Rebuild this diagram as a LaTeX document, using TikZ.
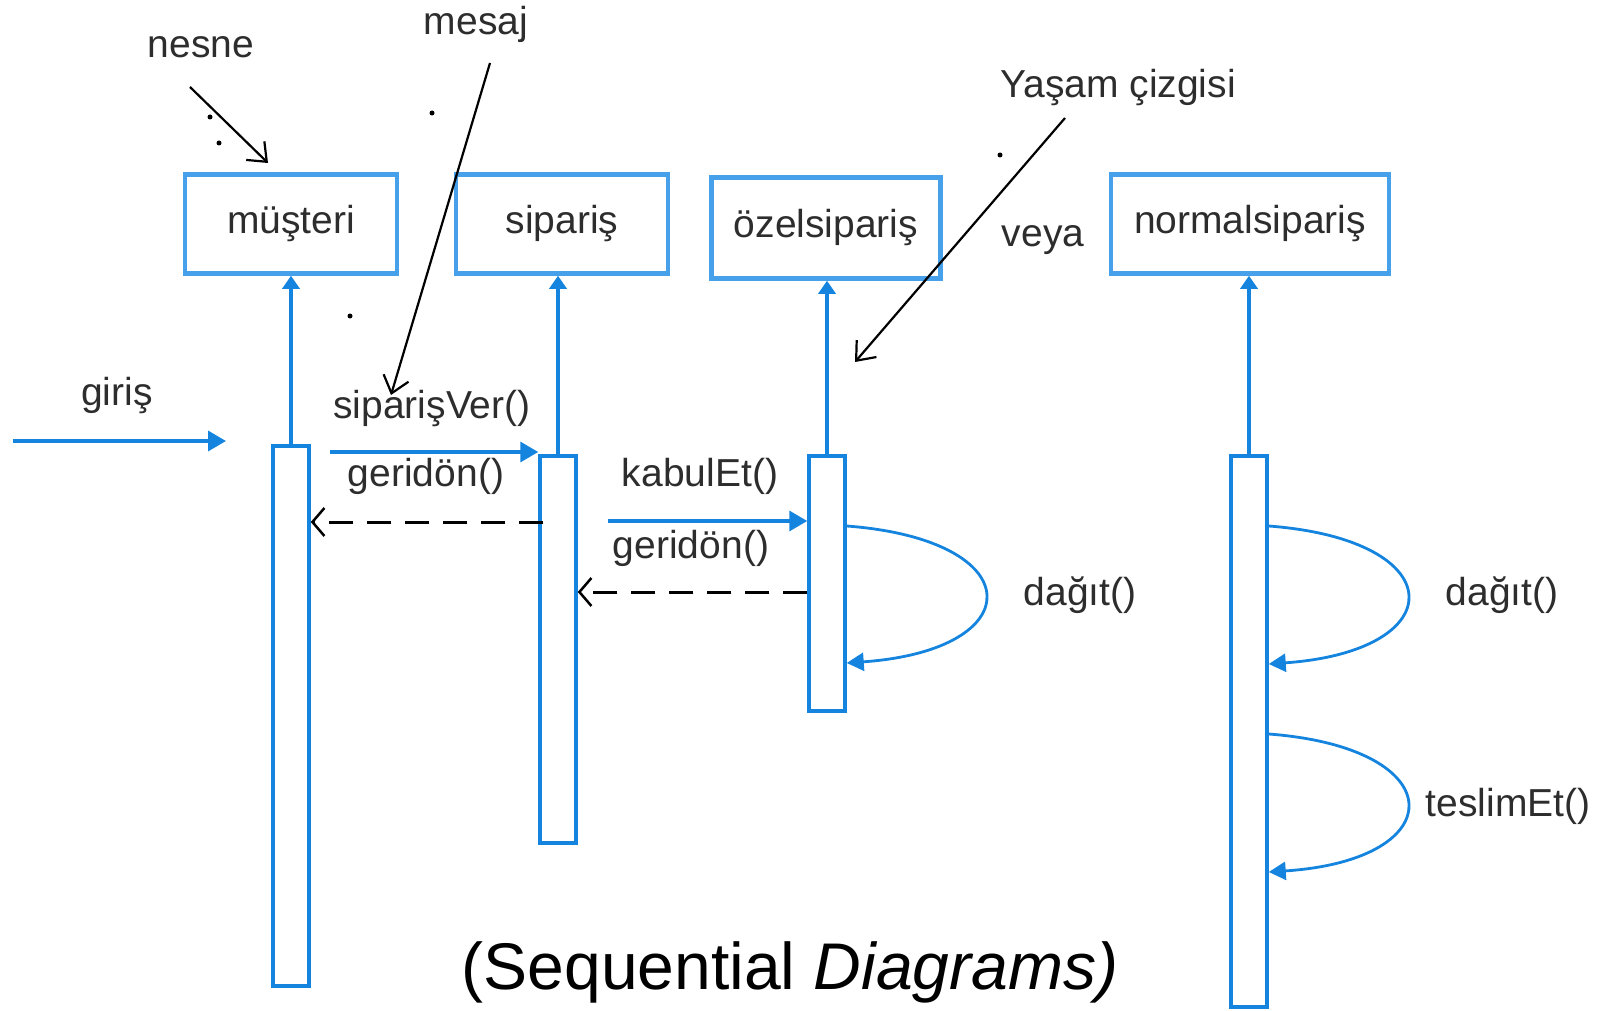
\documentclass[tikz,border=0pt]{standalone}
\usepackage{fontspec}
\setmainfont{Liberation Sans}
\usetikzlibrary{arrows.meta,calc}
\definecolor{lineblue}{RGB}{20,132,222}
\definecolor{boxblue}{RGB}{70,160,234}
\definecolor{txt}{RGB}{45,45,45}
\begin{document}
\begin{tikzpicture}[x=1pt,y=-1pt,
  font=\fontsize{39}{47}\selectfont, text=txt,
  objbox/.style={draw=boxblue, line width=4.5pt, minimum height=99pt, inner sep=0pt, text height=28pt, text depth=8pt},
  actbox/.style={draw=lineblue, line width=3.5pt, minimum width=36pt, anchor=north, inner sep=0pt},
  lbl/.style={anchor=base, inner sep=0pt},
  life/.style={draw=lineblue, line width=3.5pt, -{Triangle[length=13pt,width=17pt]}},
  msg/.style={draw=lineblue, line width=3.5pt, -{Triangle[length=18pt,width=20pt]}},
  ret/.style={draw=black, line width=3pt, dash pattern=on 24pt off 14pt, -{Straight Barb[length=12pt,width=28pt,line width=2.5pt]}},
  selfloop/.style={draw=lineblue, line width=2.8pt, -{Triangle[length=17pt,width=18pt]}},
  note/.style={draw=black, line width=2.2pt, -{Straight Barb[length=16pt,width=26pt]}},
  straydot/.style={circle, fill=black, inner sep=0pt, minimum size=5pt}]
\useasboundingbox (0,0) rectangle (1599,1011);

% objects
\node[objbox, minimum width=212pt] (must) at (291,224) {müşteri};
\node[objbox, minimum width=212pt] (sip) at (562,224) {sipariş};
\node[objbox, minimum width=229pt, minimum height=101pt] (ozel) at (826,228) {özelsipariş};
\node[objbox, minimum width=278pt] (norm) at (1250,224) {normalsipariş};

% activation bars
\node[actbox, minimum height=540pt] (mustA) at (291,444) {};
\node[actbox, minimum height=387pt] (sipA) at (558,454) {};
\node[actbox, minimum height=255pt] (ozA) at (827,454) {};
\node[actbox, minimum height=551pt] (normA) at (1249,454) {};

% lifelines
\draw[life] (mustA.north) -- (mustA.north |- must.south);
\draw[life] (sipA.north) -- (sipA.north |- sip.south);
\draw[life] (ozA.north) -- (ozA.north |- ozel.south);
\draw[life] (normA.north) -- (normA.north |- norm.south);

% messages
\coordinate (girisStart) at (13,441);
\coordinate (girisEnd) at (226,441);
\draw[msg] (girisStart) -- (girisEnd);

\coordinate (m1) at (0,452);
\draw[msg] ($(mustA.east |- m1)+(19,0)$) -- (sipA.west |- m1);

\coordinate (r1) at (0,522);
\draw[ret] ($(sipA.west |- r1)+(5,0)$) -- (mustA.east |- r1);

\coordinate (k1) at (0,521);
\draw[msg] ($(sipA.east |- k1)+(30,0)$) -- (ozA.west |- k1);

\coordinate (r2) at (0,592);
\draw[ret] (ozA.west |- r2) -- (sipA.east |- r2);

% self messages
\coordinate (sa) at (0,526); \coordinate (sb) at (0,663);
\draw[selfloop] (ozA.east |- sa) .. controls (1031,540) and (1031,650) .. (ozA.east |- sb);
\coordinate (na) at (0,526); \coordinate (nb) at (0,664);
\draw[selfloop] (normA.east |- na) .. controls (1453,540) and (1453,651) .. (normA.east |- nb);
\coordinate (ta) at (0,734); \coordinate (tb) at (0,872);
\draw[selfloop] (normA.east |- ta) .. controls (1453,748) and (1453,860) .. (normA.east |- tb);

% labels
\node[lbl] (lGiris) at (117,405) {giriş};
\node[lbl] (lSipVer) at (432,418) {siparişVer()};
\node[lbl] (lGeri1) at (426,486) {geridön()};
\node[lbl] (lKabul) at (700,486) {kabulEt()};
\node[lbl] (lGeri2) at (691,558) {geridön()};
\node[lbl] (lDagit1) at (1080,605) {dağıt()};
\node[lbl] (lDagit2) at (1502,605) {dağıt()};
\node[lbl] (lTeslim) at (1508,816) {teslimEt()};
\node[lbl] (lNesne) at (201,58) {nesne};
\node[lbl] (lMesaj) at (476,35) {mesaj};
\node[lbl] (lYasam) at (1118,98) {Yaşam çizgisi};
\node[lbl] (lVeya) at (1043,247) {veya};
\node[lbl, text=black, font=\fontsize{66}{79}\selectfont] (caption) at (790,989) {(Sequential \textit{Diagrams)}};

% annotation arrows
\coordinate (nesneS) at (190,87); \coordinate (nesneE) at (268,163);
\draw[note] (nesneS) -- (nesneE);
\coordinate (mesajS) at (490,63); \coordinate (mesajE) at (391,395);
\draw[note] (mesajS) -- (mesajE);
\coordinate (yasamS) at (1065,118); \coordinate (yasamE) at (855,362);
\draw[note] (yasamS) -- (yasamE);

% stray dots
\node[straydot] (d1) at (210,117) {};
\node[straydot] (d2) at (219,143) {};
\node[straydot] (d3) at (432,113) {};
\node[straydot] (d4) at (350,316) {};
\node[straydot] (d5) at (1000,155) {};
\end{tikzpicture}
\end{document}
